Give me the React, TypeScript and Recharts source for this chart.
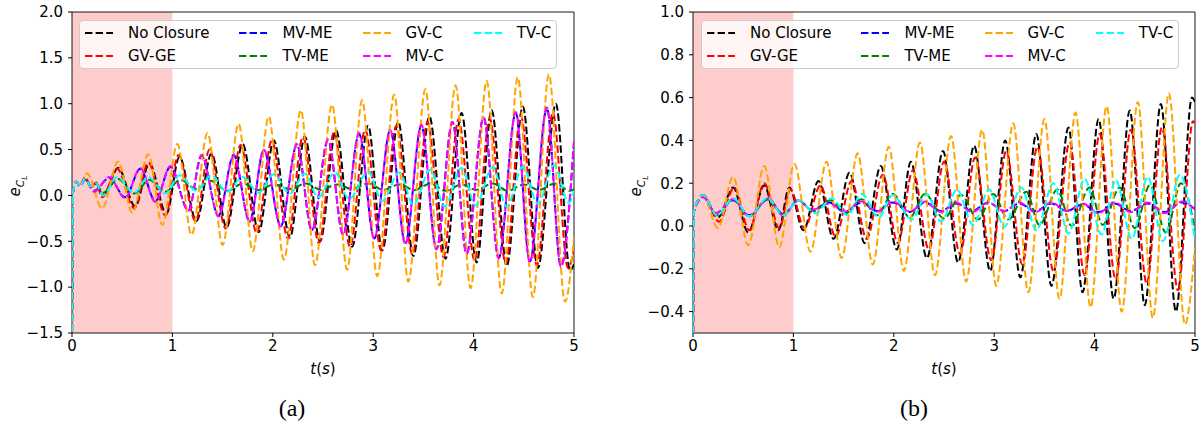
import React from "react";
import { LineChart, Line, XAxis, YAxis, ReferenceArea } from "recharts";

type Pt = [number, number];

const SERIES_NAMES = ["No Closure", "GV-GE", "MV-ME", "TV-ME", "GV-C", "MV-C", "TV-C"];
const SERIES_COLORS = ["#000000", "#ff0000", "#0000ff", "#008000", "#ffa500", "#ff00ff", "#00ffff"];

const T_TICKS = [0, 1, 2, 3, 4, 5];
const A_TICKS = [-1.5, -1, -0.5, 0, 0.5, 1, 1.5, 2];
const B_TICKS = [-0.4, -0.2, 0, 0.2, 0.4, 0.6, 0.8, 1.0];

// (a) ------------------------------------------------------------------
const noClosureA: Pt[] = [
  [0, -1.6], [0.01, 0.03], [0.04, 0.15], [0.08, 0.1], [0.13, 0.19], [0.19, 0.1], [0.24, 0.13],
  [0.31, 0.0], [0.46, 0.3], [0.63, -0.12], [0.77, 0.35], [0.94, -0.2], [1.07, 0.42], [1.24, -0.28],
  [1.39, 0.46], [1.54, -0.35], [1.7, 0.56], [1.86, -0.4], [2.01, 0.6], [2.17, -0.46], [2.32, 0.64],
  [2.47, -0.5], [2.63, 0.71], [2.79, -0.56], [2.95, 0.76], [3.09, -0.6], [3.25, 0.8], [3.4, -0.66],
  [3.56, 0.86], [3.72, -0.69], [3.88, 0.9], [4.03, -0.73], [4.18, 0.93], [4.33, -0.77], [4.49, 0.97],
  [4.64, -0.79], [4.82, 1.0], [4.96, -0.82], [5.0, -0.75],
];
const gvgeA: Pt[] = [
  [0, -1.6], [0.01, 0.03], [0.04, 0.15], [0.08, 0.1], [0.13, 0.2], [0.19, 0.09], [0.24, 0.14],
  [0.3, -0.02], [0.45, 0.29], [0.62, -0.14], [0.76, 0.36], [0.93, -0.22], [1.06, 0.44], [1.23, -0.28],
  [1.37, 0.5], [1.53, -0.36], [1.68, 0.55], [1.84, -0.41], [1.99, 0.6], [2.15, -0.47], [2.3, 0.64],
  [2.46, -0.52], [2.61, 0.69], [2.77, -0.56], [2.92, 0.72], [3.08, -0.6], [3.23, 0.76], [3.39, -0.64],
  [3.54, 0.8], [3.7, -0.67], [3.85, 0.83], [4.01, -0.71], [4.16, 0.84], [4.32, -0.74], [4.47, 0.87],
  [4.63, -0.76], [4.79, 0.9], [4.94, -0.79], [5.0, -0.6],
];
const mvmeA: Pt[] = [
  [0, -1.6], [0.01, 0.03], [0.04, 0.15], [0.08, 0.1], [0.13, 0.18], [0.22, 0.05], [0.37, 0.19],
  [0.53, -0.02], [0.68, 0.29], [0.83, -0.06], [0.98, 0.31], [1.16, -0.16], [1.29, 0.43], [1.46, -0.22],
  [1.61, 0.44], [1.77, -0.28], [1.91, 0.49], [2.08, -0.33], [2.24, 0.55], [2.39, -0.38], [2.55, 0.6],
  [2.7, -0.42], [2.86, 0.67], [3.01, -0.47], [3.17, 0.71], [3.32, -0.52], [3.48, 0.76], [3.63, -0.58],
  [3.79, 0.8], [3.93, -0.63], [4.1, 0.85], [4.25, -0.68], [4.42, 0.9], [4.56, -0.72], [4.73, 0.95],
  [4.87, -0.77], [5.0, 0.58],
];
const tvmeA: Pt[] = [
  [0, -1.6], [0.01, 0.03], [0.04, 0.15], [0.08, 0.1], [0.13, 0.17], [0.19, 0.1], [0.24, 0.13],
  [0.31, 0.03], [0.46, 0.18], [0.62, 0.02], [0.77, 0.17], [0.93, 0.04], [1.08, 0.17], [1.24, 0.07],
  [1.38, 0.16], [1.55, 0.05], [1.7, 0.13], [1.86, 0.06], [2.01, 0.12], [2.17, 0.07], [2.33, 0.13],
  [2.48, 0.06], [2.64, 0.12], [2.79, 0.07], [2.95, 0.13], [3.1, 0.06], [3.26, 0.12], [3.41, 0.06],
  [3.57, 0.13], [3.72, 0.05], [3.88, 0.12], [4.03, 0.06], [4.19, 0.13], [4.34, 0.05], [4.5, 0.12],
  [4.65, 0.06], [4.81, 0.13], [4.96, 0.05], [5.0, 0.07],
];
const gvcA: Pt[] = [
  [0, -1.6], [0.01, 0.03], [0.04, 0.15], [0.08, 0.1], [0.15, 0.24], [0.3, -0.14], [0.46, 0.37],
  [0.6, -0.19], [0.76, 0.45], [0.9, -0.32], [1.05, 0.56], [1.19, -0.43], [1.35, 0.68], [1.5, -0.54],
  [1.66, 0.78], [1.8, -0.61], [1.96, 0.86], [2.11, -0.7], [2.28, 0.93], [2.42, -0.76], [2.59, 0.99],
  [2.74, -0.81], [2.89, 1.04], [3.04, -0.88], [3.21, 1.1], [3.35, -0.94], [3.52, 1.16], [3.66, -0.98],
  [3.82, 1.2], [3.97, -1.01], [4.13, 1.25], [4.28, -1.07], [4.44, 1.29], [4.59, -1.11], [4.75, 1.32],
  [4.91, -1.16], [5.0, -0.45],
];
const mvcA: Pt[] = [
  [0, -1.6], [0.01, 0.03], [0.04, 0.15], [0.08, 0.1], [0.13, 0.18], [0.22, 0.04], [0.37, 0.2],
  [0.53, -0.03], [0.68, 0.3], [0.83, -0.07], [0.98, 0.32], [1.16, -0.17], [1.29, 0.44], [1.46, -0.23],
  [1.61, 0.43], [1.77, -0.29], [1.91, 0.5], [2.08, -0.34], [2.24, 0.56], [2.39, -0.38], [2.55, 0.61],
  [2.7, -0.43], [2.86, 0.68], [3.01, -0.47], [3.17, 0.71], [3.32, -0.53], [3.48, 0.77], [3.63, -0.59],
  [3.79, 0.8], [3.93, -0.64], [4.1, 0.85], [4.25, -0.69], [4.42, 0.91], [4.56, -0.73], [4.73, 0.96],
  [4.87, -0.78], [5.0, 0.6],
];
const tvcA: Pt[] = [
  [0, -1.6], [0.01, 0.03], [0.04, 0.15], [0.08, 0.1], [0.13, 0.18], [0.19, 0.1], [0.24, 0.13],
  [0.31, 0.0], [0.45, 0.2], [0.62, 0.03], [0.76, 0.2], [0.93, 0.02], [1.07, 0.22], [1.24, 0.05],
  [1.39, 0.22], [1.54, 0.04], [1.7, 0.2], [1.86, 0.03], [2.01, 0.23], [2.17, 0.02], [2.32, 0.24],
  [2.45, -0.02], [2.62, 0.25], [2.76, -0.04], [2.95, 0.26], [3.09, -0.06], [3.26, 0.25], [3.4, -0.1],
  [3.57, 0.28], [3.71, -0.12], [3.88, 0.3], [4.02, -0.11], [4.19, 0.31], [4.33, -0.12], [4.49, 0.31],
  [4.64, -0.09], [4.8, 0.33], [4.95, -0.08], [5.0, 0.05],
];

// (b) ------------------------------------------------------------------
const noClosureB: Pt[] = [
  [0, -0.6], [0.01, 0.07], [0.1, 0.145], [0.25, 0.04], [0.4, 0.18], [0.55, -0.03], [0.71, 0.19],
  [0.85, -0.02], [0.96, 0.18], [1.1, -0.02], [1.25, 0.21], [1.4, -0.06], [1.56, 0.25], [1.71, -0.08],
  [1.87, 0.28], [2.03, -0.11], [2.17, 0.3], [2.33, -0.15], [2.49, 0.35], [2.64, -0.17], [2.8, 0.375],
  [2.96, -0.21], [3.11, 0.4], [3.26, -0.24], [3.42, 0.43], [3.57, -0.28], [3.74, 0.46], [3.88, -0.31],
  [4.04, 0.5], [4.19, -0.34], [4.35, 0.54], [4.5, -0.37], [4.66, 0.57], [4.81, -0.4], [4.97, 0.6],
  [5.0, 0.58],
];
const gvgeB: Pt[] = [
  [0, -0.6], [0.01, 0.07], [0.1, 0.145], [0.26, 0.02], [0.41, 0.18], [0.56, -0.02], [0.71, 0.2],
  [0.86, -0.01], [0.97, 0.17], [1.11, -0.01], [1.27, 0.19], [1.42, -0.05], [1.58, 0.21], [1.73, -0.06],
  [1.89, 0.24], [2.04, -0.08], [2.19, 0.26], [2.35, -0.11], [2.5, 0.3], [2.66, -0.13], [2.81, 0.32],
  [2.97, -0.16], [3.12, 0.35], [3.28, -0.18], [3.43, 0.37], [3.59, -0.21], [3.75, 0.39], [3.9, -0.23],
  [4.05, 0.43], [4.21, -0.25], [4.36, 0.45], [4.52, -0.27], [4.67, 0.46], [4.83, -0.3], [4.98, 0.49],
  [5.0, 0.48],
];
const mvmeB: Pt[] = [
  [0, -0.6], [0.01, 0.07], [0.1, 0.135], [0.23, 0.06], [0.4, 0.12], [0.56, 0.05], [0.75, 0.125],
  [0.9, 0.055], [1.05, 0.12], [1.18, 0.075], [1.36, 0.11], [1.51, 0.065], [1.68, 0.11], [1.83, 0.07],
  [1.99, 0.11], [2.16, 0.065], [2.31, 0.11], [2.47, 0.07], [2.62, 0.105], [2.78, 0.07], [2.94, 0.11],
  [3.1, 0.07], [3.25, 0.105], [3.41, 0.07], [3.57, 0.105], [3.72, 0.07], [3.88, 0.1], [4.04, 0.065],
  [4.2, 0.105], [4.36, 0.07], [4.53, 0.105], [4.7, 0.065], [4.87, 0.11], [5.0, 0.08],
];
const tvmeB: Pt[] = [
  [0, -0.6], [0.01, 0.07], [0.1, 0.14], [0.24, 0.05], [0.4, 0.125], [0.56, 0.045], [0.74, 0.125],
  [0.9, 0.05], [1.05, 0.12], [1.2, 0.07], [1.37, 0.12], [1.52, 0.06], [1.68, 0.125], [1.83, 0.05],
  [1.99, 0.15], [2.16, 0.04], [2.31, 0.15], [2.5, 0.035], [2.67, 0.145], [2.84, 0.03], [2.99, 0.15],
  [3.14, 0.03], [3.32, 0.16], [3.45, 0.005], [3.63, 0.17], [3.77, 0.0], [3.95, 0.18], [4.08, 0.005],
  [4.25, 0.18], [4.4, -0.01], [4.55, 0.19], [4.71, -0.03], [4.86, 0.2], [5.0, -0.02],
];
const gvcB: Pt[] = [
  [0, -0.6], [0.01, 0.07], [0.1, 0.14], [0.25, -0.01], [0.4, 0.23], [0.55, -0.09], [0.71, 0.28],
  [0.86, -0.1], [1.01, 0.29], [1.17, -0.12], [1.33, 0.3], [1.48, -0.15], [1.64, 0.34], [1.79, -0.18],
  [1.95, 0.37], [2.1, -0.21], [2.26, 0.39], [2.41, -0.23], [2.57, 0.42], [2.72, -0.26], [2.88, 0.45],
  [3.02, -0.28], [3.19, 0.48], [3.34, -0.31], [3.5, 0.5], [3.65, -0.34], [3.81, 0.53], [3.96, -0.38],
  [4.12, 0.56], [4.27, -0.4], [4.43, 0.58], [4.58, -0.43], [4.74, 0.62], [4.9, -0.46], [5.0, -0.1],
];
const mvcB: Pt[] = [
  [0, -0.6], [0.01, 0.07], [0.1, 0.135], [0.23, 0.06], [0.4, 0.125], [0.56, 0.045], [0.75, 0.13],
  [0.9, 0.05], [1.05, 0.12], [1.18, 0.075], [1.36, 0.105], [1.51, 0.067], [1.68, 0.114], [1.83, 0.067],
  [1.99, 0.114], [2.16, 0.067], [2.31, 0.114], [2.47, 0.065], [2.62, 0.11], [2.78, 0.065], [2.94, 0.11],
  [3.1, 0.07], [3.25, 0.11], [3.41, 0.065], [3.57, 0.11], [3.72, 0.07], [3.88, 0.105], [4.04, 0.06],
  [4.2, 0.11], [4.36, 0.065], [4.53, 0.11], [4.7, 0.06], [4.87, 0.115], [5.0, 0.075],
];
const tvcB: Pt[] = [
  [0, -0.6], [0.01, 0.07], [0.1, 0.145], [0.24, 0.05], [0.4, 0.13], [0.56, 0.045], [0.74, 0.13],
  [0.9, 0.05], [1.05, 0.12], [1.22, 0.06], [1.38, 0.13], [1.54, 0.05], [1.68, 0.15], [1.85, 0.04],
  [1.99, 0.145], [2.18, 0.03], [2.33, 0.15], [2.47, 0.02], [2.63, 0.17], [2.79, 0.005], [2.95, 0.17],
  [3.1, -0.003], [3.27, 0.18], [3.42, -0.02], [3.59, 0.2], [3.74, -0.035], [3.9, 0.22], [4.07, -0.04],
  [4.21, 0.215], [4.37, -0.06], [4.53, 0.23], [4.68, -0.07], [4.85, 0.24], [5.0, -0.065],
];

const PANEL_A = [noClosureA, gvgeA, mvmeA, tvmeA, gvcA, mvcA, tvcA];
const PANEL_B = [noClosureB, gvgeB, mvmeB, tvmeB, gvcB, mvcB, tvcB];

const FONT = "'DejaVu Sans', sans-serif";
const DASH = "7.4 3.2";

const toRows = (pts: Pt[]) => pts.map(([t, v]) => ({ t, v }));
const fmtY = (v: number) => v.toFixed(1).replace("-", "\u2212");

function LegendBox({ left, top }: { left: number; top: number }) {
  return (
    <div
      style={{
        position: "absolute",
        left,
        top,
        display: "grid",
        gridTemplateRows: "18px 18px",
        gridAutoFlow: "column",
        columnGap: 30,
        rowGap: 5,
        padding: "3px 5px 3px 5px",
        background: "rgba(255,255,255,0.8)",
        border: "1px solid #cccccc",
        borderRadius: 4,
        fontFamily: FONT,
        fontSize: 15,
        lineHeight: "18px",
      }}
    >
      {SERIES_NAMES.map((name, i) => (
        <div key={name} style={{ display: "flex", alignItems: "center", whiteSpace: "nowrap" }}>
          <svg width={28} height={10} style={{ marginRight: 15 }}>
            <line x1={0} y1={5} x2={28} y2={5} stroke={SERIES_COLORS[i]} strokeWidth={2} strokeDasharray={DASH} />
          </svg>
          <span>{name}</span>
        </div>
      ))}
    </div>
  );
}

function YLabel({ left, top }: { left: number; top: number }) {
  return (
    <div
      style={{
        position: "absolute",
        left,
        top,
        transform: "translate(-50%, -50%) rotate(-90deg)",
        fontFamily: FONT,
        fontSize: 15,
        lineHeight: 1,
        whiteSpace: "nowrap",
      }}
    >
      <span style={{ fontStyle: "italic" }}>e</span>
      <span style={{ fontStyle: "italic", fontSize: 10.5, position: "relative", top: 4 }}>
        C<span style={{ fontSize: 7.5, position: "relative", top: 2.5 }}>L</span>
      </span>
    </div>
  );
}

function XLabel({ left, top }: { left: number; top: number }) {
  return (
    <div
      style={{
        position: "absolute",
        left,
        top,
        transform: "translate(-50%, -50%)",
        fontFamily: FONT,
        fontSize: 15,
        lineHeight: 1,
        whiteSpace: "nowrap",
      }}
    >
      <i>t</i>(<i>s</i>)
    </div>
  );
}

function Caption({ left, text }: { left: number; text: string }) {
  return (
    <div
      style={{
        position: "absolute",
        left,
        top: 408,
        transform: "translate(-50%, -50%)",
        fontFamily: "'Liberation Serif', serif",
        fontSize: 24,
        lineHeight: 1,
      }}
    >
      {text}
    </div>
  );
}

function Panel({
  series,
  domain,
  ticks,
  margin,
}: {
  series: Pt[][];
  domain: [number, number];
  ticks: number[];
  margin: { top: number; right: number; bottom: number; left: number };
}) {
  return (
    <LineChart width={601} height={427} margin={margin}>
      <ReferenceArea x1={0} x2={1} fill="#ff0000" fillOpacity={0.2} stroke="none" />
      <XAxis
        type="number"
        dataKey="t"
        domain={[0, 5]}
        ticks={T_TICKS}
        height={40}
        axisLine={false}
        tickSize={4}
        tickMargin={3}
        tickLine={{ stroke: "#000" }}
        tick={{ fill: "#000", fontSize: 15, fontFamily: FONT }}
        allowDataOverflow
      />
      <YAxis
        type="number"
        domain={domain}
        ticks={ticks}
        width={60}
        axisLine={false}
        tickSize={4}
        tickMargin={5}
        tickLine={{ stroke: "#000" }}
        tick={{ fill: "#000", fontSize: 15, fontFamily: FONT }}
        tickFormatter={fmtY}
        allowDataOverflow
      />
      {series.map((pts, i) => (
        <Line
          key={SERIES_NAMES[i]}
          name={SERIES_NAMES[i]}
          data={toRows(pts)}
          dataKey="v"
          type="monotone"
          stroke={SERIES_COLORS[i]}
          strokeWidth={2}
          strokeDasharray={DASH}
          dot={false}
          activeDot={false}
          isAnimationActive={false}
        />
      ))}
      <ReferenceArea x1={0} x2={5} y1={domain[0]} y2={domain[1]} fill="none" stroke="#000" strokeWidth={0.9} />
    </LineChart>
  );
}

export default function App() {
  return (
    <div style={{ position: "absolute", left: 0, top: 0, width: 1202, height: 427, background: "#fff" }}>
      <div style={{ position: "absolute", left: 0, top: 0 }}>
        <Panel series={PANEL_A} domain={[-1.5, 2]} ticks={A_TICKS} margin={{ top: 12, right: 27, bottom: 54, left: 12 }} />
      </div>
      <div style={{ position: "absolute", left: 601, top: 0 }}>
        <Panel series={PANEL_B} domain={[-0.5, 1]} ticks={B_TICKS} margin={{ top: 12, right: 7, bottom: 54, left: 32 }} />
      </div>
      <LegendBox left={79} top={20} />
      <LegendBox left={701} top={20} />
      <YLabel left={15} top={186} />
      <YLabel left={636} top={186} />
      <XLabel left={323} top={369} />
      <XLabel left={944} top={369} />
      <Caption left={292} text="(a)" />
      <Caption left={914} text="(b)" />
    </div>
  );
}
